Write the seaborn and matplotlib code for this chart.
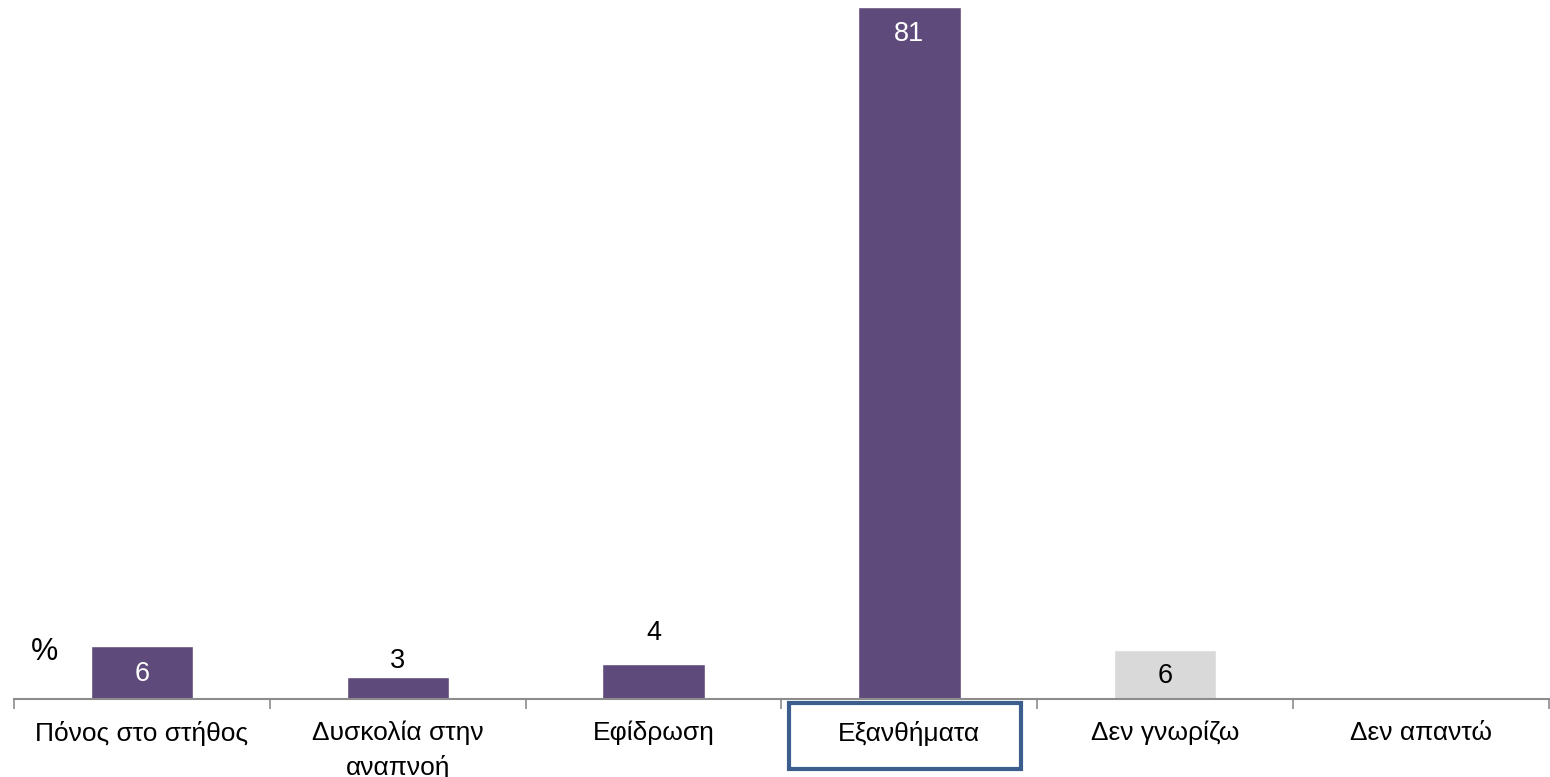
import matplotlib
matplotlib.use("Agg")
import matplotlib.pyplot as plt
import seaborn as sns
import numpy as np
import pandas as pd
from matplotlib.patches import Rectangle

categories = ["Πόνος στο στήθος", "Δυσκολία στην\nαναπνοή", "Εφίδρωση",
              "Εξανθήματα", "Δεν γνωρίζω", "Δεν απαντώ"]
values = [6.2, 2.6, 4.1, 81.0, 5.7, 0.0]
labels = ["6", "3", "4", "81", "6", ""]

PURPLE = "#5F4B7B"
GREY = "#D9D9D9"
bar_colors = [PURPLE, PURPLE, PURPLE, PURPLE, GREY, PURPLE]
# label placement: (mode, colour)
label_style = [("inside", "white"), ("above", "black"), ("above2", "black"),
               ("top", "white"), ("inside", "black"), ("inside", "black")]

sns.set_theme(style="white")
plt.rcParams["font.family"] = ["Liberation Sans", "DejaVu Sans"]

W, H = 1550, 777
fig = plt.figure(figsize=(W / 100, H / 100), dpi=100)
ax = fig.add_axes([14 / W, (H - 699) / H, (1549 - 14) / W, (699 - 7) / H])

df = pd.DataFrame({"cat": categories, "val": values})
sns.barplot(data=df, x="cat", y="val", hue="cat", palette=bar_colors,
            legend=False, width=0.4, ax=ax, saturation=1)

ax.set_ylim(0, 81)
ax.set_xlim(-0.5, len(categories) - 0.5)
ax.set_xlabel("")
ax.set_ylabel("")
ax.set_yticks([])
for s in ["top", "right", "left"]:
    ax.spines[s].set_visible(False)
ax.spines["bottom"].set_color("#8C8C8C")
ax.spines["bottom"].set_linewidth(1.5)

ax.set_xticks(range(len(categories)))
ax.set_xticklabels(categories, fontsize=19, color="black", linespacing=1.48)
ax.tick_params(axis="x", which="major", length=0, pad=15.5)
ax.set_xticks(np.arange(-0.5, len(categories)), minor=True)
ax.tick_params(axis="x", which="minor", bottom=True, length=7, width=1.2,
               color="#8C8C8C")

px = 81 / (699 - 7)  # data units per pixel
for i, (v, lab) in enumerate(zip(values, labels)):
    if not lab:
        continue
    mode, col = label_style[i]
    if mode == "inside":
        y = v / 2 - 1 * px
    elif mode == "above":
        y = v + 16 * px
    elif mode == "above2":
        y = v + 31 * px
    else:
        y = v - 27 * px
    ax.text(i, y, lab, ha="center", va="center", fontsize=19.5, color=col)

fig.text(45 / W, 1 - 652 / H, "%", ha="center", va="center", fontsize=22,
         color="black")

fig.patches.append(Rectangle((789 / W, (H - 769) / H), (1021 - 789) / W,
                             (769 - 703) / H, transform=fig.transFigure,
                             fill=False, edgecolor="#3B5E8C", linewidth=3))

fig.savefig("out.png", dpi=100)
